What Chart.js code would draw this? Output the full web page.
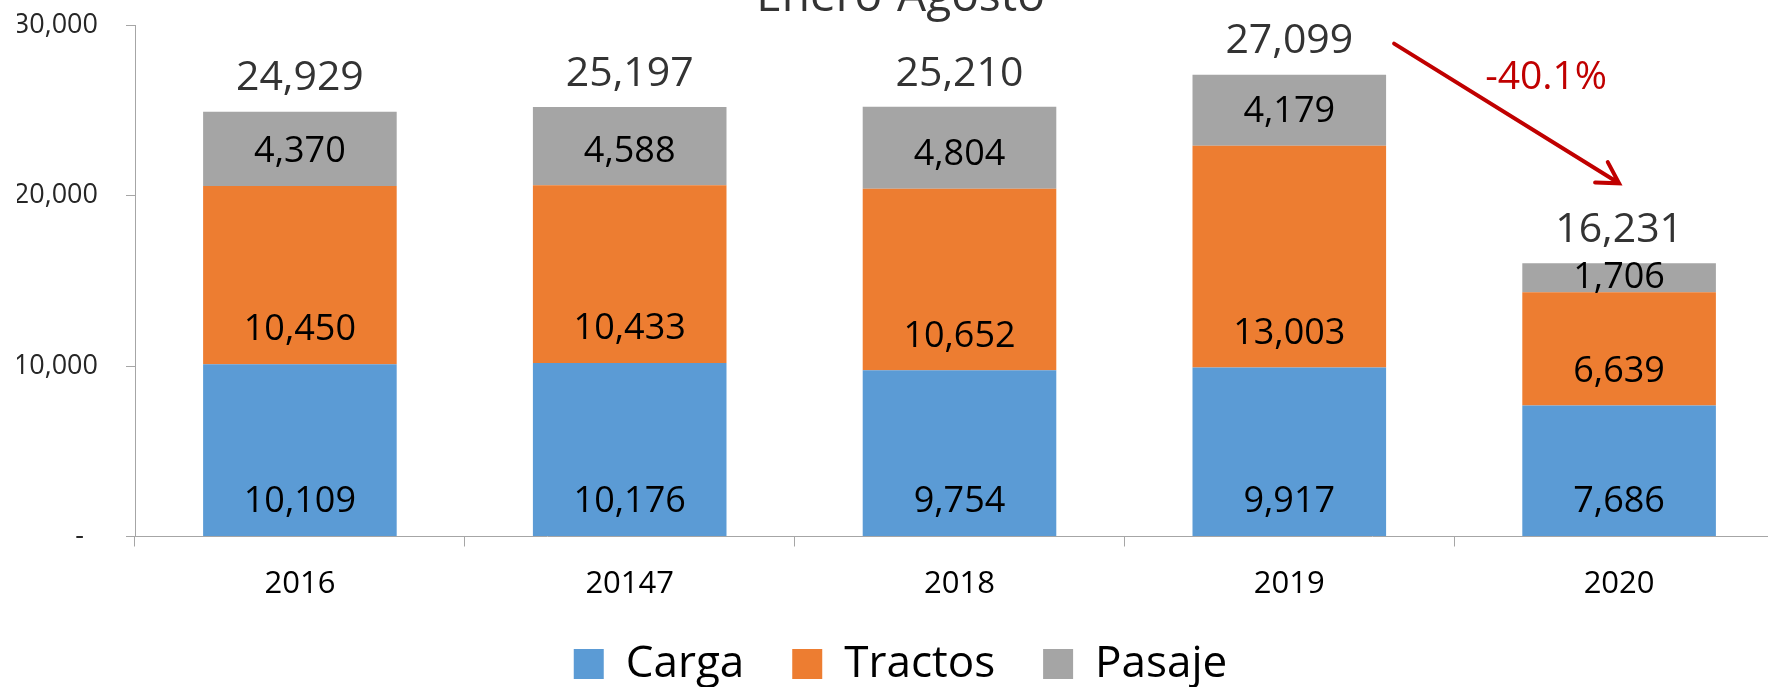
<!DOCTYPE html>
<html>
<head>
<meta charset="utf-8">
<script src="https://cdn.jsdelivr.net/npm/chart.js@4/dist/chart.umd.min.js"></script>
<style>
  html, body { margin: 0; padding: 0; background: #fff; overflow: hidden; width: 1768px; height: 687px; }
  #chart { position: absolute; left: 0; top: -30px; }
</style>
</head>
<body>
<canvas id="chart" width="1784" height="726"></canvas>
<script>
// values (Enero-Agosto)
var categories = ["2016", "20147", "2018", "2019", "2020"];
var carga = [10109, 10176, 9754, 9917, 7686];
var tractos = [10450, 10433, 10652, 13003, 6639];
var pasaje = [4370, 4588, 4804, 4179, 1706];
var totals = [24929, 25197, 25210, 27099, 16231];
var yMax = 30000;
var yStep = 10000;

var FONT = '"Open Sans", "Liberation Sans", sans-serif';
var fmt = function (v) { return Number(v).toLocaleString("en-US"); };

// segment values, stack totals and the 2019 -> 2020 arrow
var barLabels = {
  id: "barLabels",
  afterDatasetsDraw: function (chart) {
    var ctx = chart.ctx;
    ctx.save();
    ctx.textAlign = "center";
    ctx.textBaseline = "middle";
    ctx.font = "36px " + FONT;
    ctx.fillStyle = "#000";
    chart.data.datasets.forEach(function (ds, di) {
      chart.getDatasetMeta(di).data.forEach(function (bar, i) {
        var y = Math.max(bar.base - 34, (bar.base + bar.y) / 2);
        ctx.fillText(fmt(ds.data[i]), bar.x, y);
      });
    });

    var tops = chart.getDatasetMeta(chart.data.datasets.length - 1).data;
    ctx.font = "41px " + FONT;
    ctx.fillStyle = "#333";
    tops.forEach(function (bar, i) {
      ctx.fillText(fmt(totals[i]), bar.x, bar.y - 33);
    });

    // arrow from 2019 total down to 2020 total
    var b4 = tops[3], b5 = tops[4];
    var x0 = b4.x + b4.width / 2 + 8, y0 = b4.y - 31;
    var x1 = b5.x, y1 = b5.y - 80;
    var ang = Math.atan2(y1 - y0, x1 - x0);
    var head = 24;
    ctx.strokeStyle = "#c00000";
    ctx.lineWidth = 4;
    ctx.lineCap = "round";
    ctx.beginPath();
    ctx.moveTo(x0, y0);
    ctx.lineTo(x1, y1);
    ctx.moveTo(x1 - head * Math.cos(ang - Math.PI / 6), y1 - head * Math.sin(ang - Math.PI / 6));
    ctx.lineTo(x1, y1);
    ctx.lineTo(x1 - head * Math.cos(ang + Math.PI / 6), y1 - head * Math.sin(ang + Math.PI / 6));
    ctx.stroke();

    var pct = ((totals[4] / totals[3] - 1) * 100).toFixed(1) + "%";
    ctx.font = "39px " + FONT;
    ctx.fillStyle = "#c00000";
    ctx.fillText(pct, b5.x - 73, b4.y + 3);
    ctx.restore();
  }
};

new Chart(document.getElementById("chart"), {
  type: "bar",
  data: {
    labels: categories,
    datasets: [
      { label: "Carga", data: carga, backgroundColor: "#5b9bd5" },
      { label: "Tractos", data: tractos, backgroundColor: "#ed7d31" },
      { label: "Pasaje", data: pasaje, backgroundColor: "#a5a5a5" }
    ]
  },
  options: {
    responsive: false,
    animation: false,
    layout: { padding: { left: 17, right: 0, top: 0, bottom: 0 } },
    datasets: { bar: { barPercentage: 0.587, categoryPercentage: 1, borderWidth: 0 } },
    scales: {
      x: {
        stacked: true,
        border: { color: "#a6a6a6" },
        grid: { offset: true, drawOnChartArea: false, tickLength: 10, color: "#a6a6a6" },
        ticks: {
          font: { family: FONT, size: 31, lineHeight: 0.613 },
          color: "#000",
          padding: 28.5,
          maxRotation: 0
        },
        afterFit: function (axis) { axis.height = 57.5; }
      },
      y: {
        stacked: true,
        min: 0,
        max: yMax,
        border: { color: "#a6a6a6" },
        grid: { drawOnChartArea: false, tickLength: 9, color: "#a6a6a6" },
        ticks: {
          stepSize: yStep,
          font: { family: FONT, size: 27 },
          color: "#262626",
          padding: 28,
          callback: function (v) { return v === 0 ? "-  " : fmt(v); }
        },
        afterFit: function (axis) { axis.width = 118; }
      }
    },
    plugins: {
      title: {
        display: true,
        text: "Enero-Agosto",
        color: "#333",
        font: { family: FONT, size: 46, weight: "normal", lineHeight: 1.2 },
        padding: { top: 0, bottom: 0 }
      },
      legend: {
        position: "bottom",
        labels: {
          boxWidth: 30,
          boxHeight: 30,
          padding: 48,
          color: "#000",
          font: { family: FONT, size: 44 }
        }
      },
      tooltip: { enabled: false }
    }
  },
  plugins: [barLabels]
});
</script>
</body>
</html>
